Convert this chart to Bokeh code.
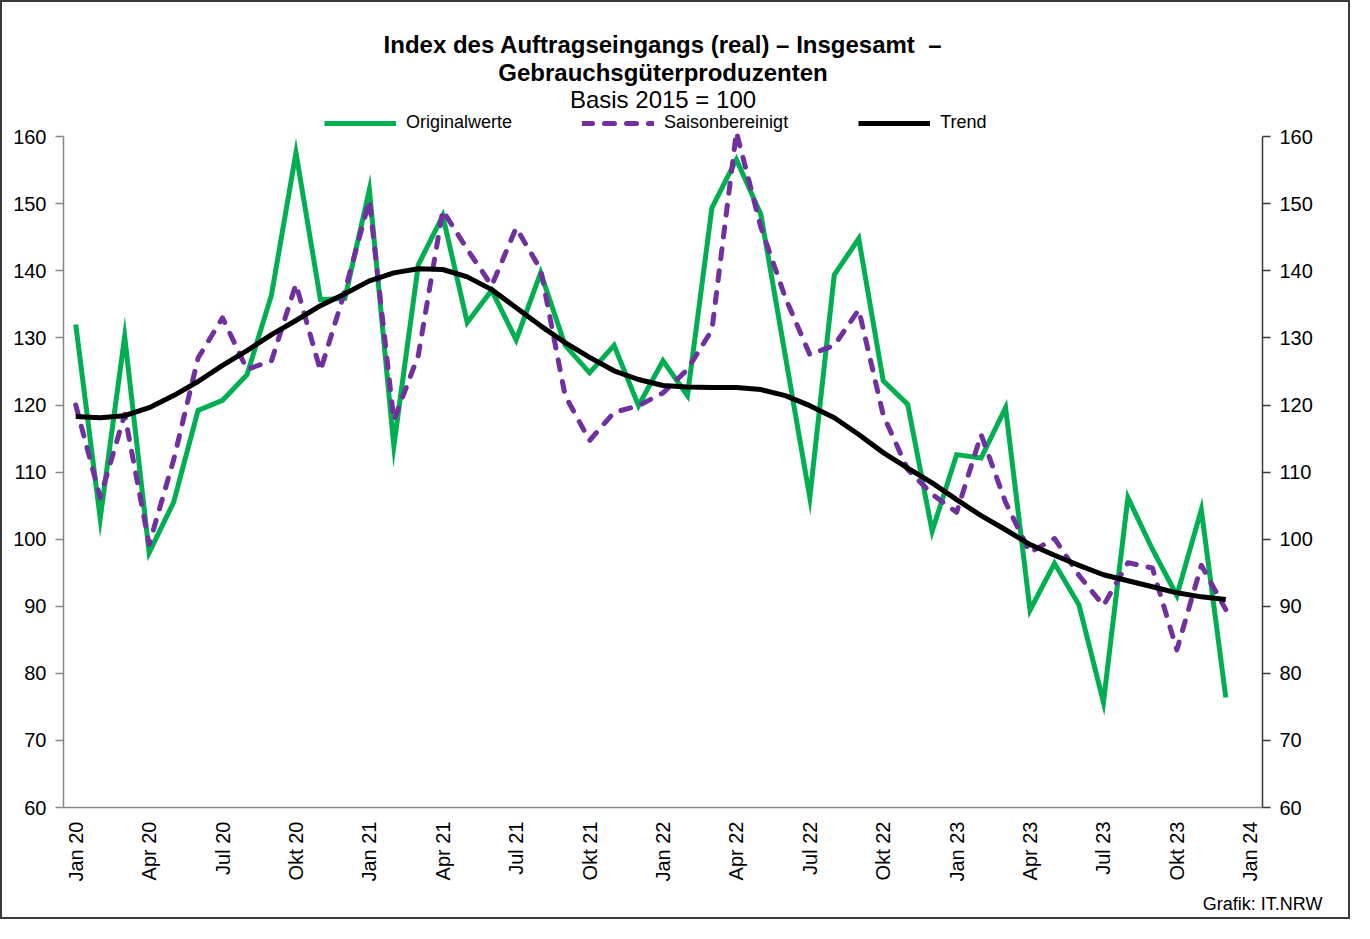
from math import pi
from bokeh.plotting import figure
from bokeh.models import (Range1d, LinearAxis, FixedTicker, Legend, LegendItem,
                          Label, Title, ColumnDataSource)
from bokeh.embed import file_html
from bokeh.resources import INLINE

# ---------------- data ----------------
months = list(range(48))  # Jan 2020 .. Dec 2023
tick_pos = [0, 3, 6, 9, 12, 15, 18, 21, 24, 27, 30, 33, 36, 39, 42, 45, 48]
tick_labels = ["Jan 20", "Apr 20", "Jul 20", "Okt 20", "Jan 21", "Apr 21", "Jul 21", "Okt 21",
               "Jan 22", "Apr 22", "Jul 22", "Okt 22", "Jan 23", "Apr 23", "Jul 23", "Okt 23",
               "Jan 24"]

originalwerte = [132.0, 103.1, 130.2, 98.0, 105.5, 119.2, 120.7, 124.5, 136.4, 157.6, 135.7, 135.9,
                 152.1, 113.9, 140.9, 148.2, 132.3, 137.1, 129.7, 139.7, 128.9, 124.8, 128.9, 119.9,
                 126.6, 121.4, 149.4, 156.6, 148.4, 127.3, 106.2, 139.4, 144.8, 123.6, 120.1, 101.2,
                 112.6, 112.1, 119.6, 89.4, 96.4, 90.2, 75.7, 106.2, 98.5, 91.6, 104.4, 76.4]

saisonbereinigt = [120.0, 106.2, 118.6, 99.2, 111.8, 127.0, 133.0, 125.3, 126.6, 138.0, 125.1, 137.0,
                   150.5, 117.7, 127.4, 149.0, 143.2, 137.8, 146.4, 140.2, 121.4, 114.7, 118.9, 119.9,
                   121.8, 125.3, 131.2, 160.7, 146.5, 136.0, 127.5, 128.9, 134.2, 118.5, 110.4, 106.7,
                   104.0, 115.6, 105.5, 98.0, 100.1, 94.6, 90.1, 96.5, 95.7, 83.5, 96.1, 89.5]

trend = [118.3, 118.1, 118.4, 119.6, 121.4, 123.5, 125.9, 128.1, 130.5, 132.6, 134.8, 136.6,
         138.5, 139.7, 140.3, 140.2, 139.1, 137.2, 134.5, 131.8, 129.3, 127.1, 125.1, 123.8,
         122.9, 122.7, 122.6, 122.6, 122.3, 121.4, 119.9, 118.1, 115.6, 112.9, 110.6, 108.4,
         105.9, 103.5, 101.4, 99.2, 97.6, 96.1, 94.7, 93.8, 92.9, 92.0, 91.4, 91.0]

y_ticks = [60, 70, 80, 90, 100, 110, 120, 130, 140, 150, 160]

title_1 = "Index des Auftragseingangs (real) \u2013 Insgesamt\u00a0 \u2013"
title_2 = "Gebrauchsg\u00fcterproduzenten"
subtitle = "Basis 2015 = 100"
source_note = "Grafik: IT.NRW"

FONT = "Liberation Sans"
GREEN = "#00B050"
PURPLE = "#7030A0"

# ---------------- figure ----------------
# frame extends above the value axis (60..160) to hold title and legend
p = figure(width=1350, height=919, output_backend="svg", toolbar_location=None,
           x_range=Range1d(-0.5, 48.5), y_range=Range1d(60, 180),
           x_axis_location=None, y_axis_location=None,
           min_border_left=61, min_border_right=90, min_border_top=0, min_border_bottom=114,
           background_fill_color="white", border_fill_color="white",
           styles={"border": "2px solid #3a3a3a"})
p.outline_line_color = None
p.xgrid.visible = False
p.ygrid.visible = False

# axes
xaxis = LinearAxis(ticker=FixedTicker(ticks=tick_pos),
                   major_label_overrides={t: l for t, l in zip(tick_pos, tick_labels)})
xaxis.major_label_orientation = pi / 2
xaxis.major_tick_out = 0
xaxis.major_tick_in = 0
xaxis.minor_tick_out = 0
xaxis.minor_tick_in = 0
xaxis.axis_line_color = "#868686"
xaxis.axis_line_width = 1.5
xaxis.major_label_text_font = FONT
xaxis.major_label_text_font_size = "20px"
xaxis.major_label_text_color = "black"
xaxis.major_label_standoff = 14
p.add_layout(xaxis, "below")

for side, col in (("left", "#868686"), ("right", "#3a3a3a")):
    ax = LinearAxis(ticker=FixedTicker(ticks=y_ticks), bounds=(60, 160))
    ax.major_tick_out = 8
    ax.major_tick_in = 0
    ax.minor_tick_out = 0
    ax.minor_tick_in = 0
    ax.axis_line_color = col
    ax.major_tick_line_color = col
    ax.axis_line_width = 1.5
    ax.major_tick_line_width = 1.5
    ax.major_label_text_font = FONT
    ax.major_label_text_font_size = "20px"
    ax.major_label_text_color = "black"
    ax.major_label_standoff = 9
    p.add_layout(ax, side)

src = ColumnDataSource(dict(m=months, o=originalwerte, s=saisonbereinigt, t=trend))

r_o = p.line("m", "o", source=src, line_color=GREEN, line_width=5, line_join="miter")
r_s = p.line("m", "s", source=src, line_color=PURPLE, line_width=5, line_dash="10 12",
             line_cap="round", line_join="round")
r_t = p.line("m", "t", source=src, line_color="black", line_width=5, line_join="round")

legend = Legend(items=[LegendItem(label="Originalwerte", renderers=[r_o]),
                       LegendItem(label="Saisonbereinigt", renderers=[r_s]),
                       LegendItem(label="Trend", renderers=[r_t])],
                orientation="horizontal", location=(261, 674),
                glyph_width=72, glyph_height=20, label_height=20, label_standoff=10,
                spacing=70, padding=0, margin=0,
                label_text_font=FONT, label_text_font_size="18px", label_text_color="black",
                border_line_color=None, background_fill_alpha=0)
p.add_layout(legend, "center")

for txt, yv, bold in ((title_1, 173.7, True),
                      (title_2, 169.5, True),
                      (subtitle, 165.5, False)):
    p.add_layout(Label(x=24, y=yv, text=txt, text_align="center", text_baseline="middle",
                       text_font=FONT, text_font_size="24px",
                       text_font_style="bold" if bold else "normal", text_color="black"))

note = Title(text=source_note, align="right", offset=-60, standoff=15,
             text_font=FONT, text_font_size="18px", text_font_style="normal",
             text_color="black")
p.add_layout(note, "below")

open("out.html", "w").write(file_html(p, INLINE))
